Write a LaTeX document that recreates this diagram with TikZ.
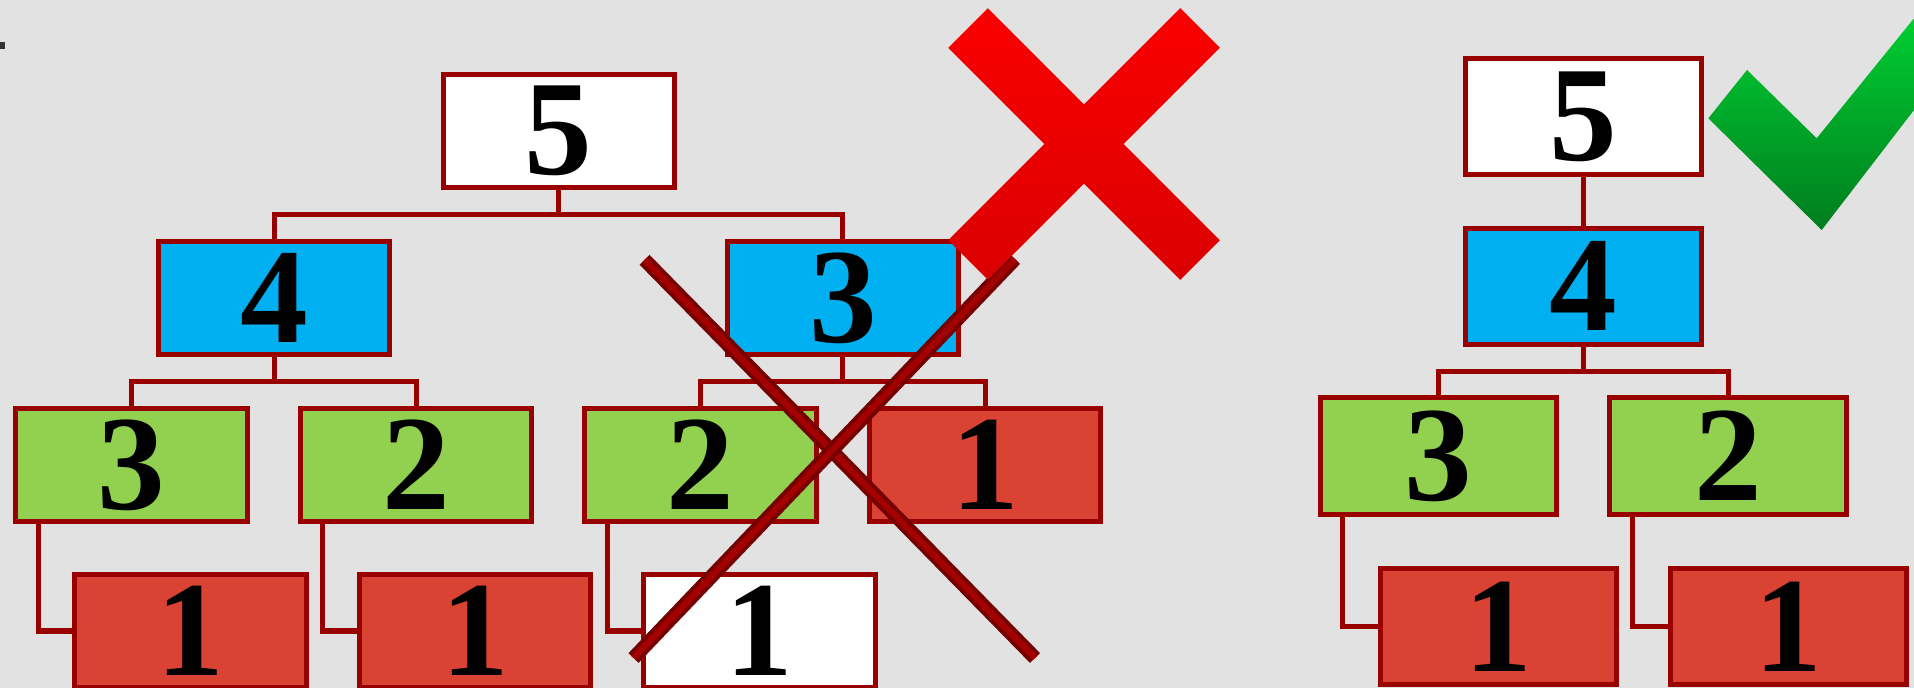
\documentclass[tikz,border=0pt]{standalone}
\usepackage{fontspec}
\setmainfont{Liberation Serif}
\usepackage{tikz}

\definecolor{paper}{RGB}{226,226,226}
\definecolor{edge}{RGB}{153,0,0}
\definecolor{sky}{RGB}{0,176,240}
\definecolor{leaf}{RGB}{146,208,80}
\definecolor{brick}{RGB}{218,67,51}
\definecolor{strikeout}{RGB}{118,0,0}
\definecolor{strikein}{RGB}{165,0,0}
\definecolor{crosshi}{RGB}{250,0,0}
\definecolor{crosslo}{RGB}{218,0,0}
\definecolor{tickhi}{RGB}{0,205,50}
\definecolor{ticklo}{RGB}{0,125,30}

\begin{document}
\begin{tikzpicture}[x=0.01cm,y=-0.01cm,
    box/.style={draw=edge, line width=0.05cm, minimum width=2.31cm,
      minimum height=1.13cm, inner sep=0pt,
      font=\fontsize{38.5}{40}\selectfont\bfseries},
    rbox/.style={minimum width=2.36cm, minimum height=1.16cm},
    link/.style={draw=edge, line width=0.05cm},
    strike/.style={draw=strikeout, line width=0.04cm, double=strikein,
      double distance=0.06cm}]
  \useasboundingbox (0,0) rectangle (1914,688);
  \clip (0,0) rectangle (1914,688);
  \fill[paper] (0,0) rectangle (1914,688);
  \fill[black!80] (0,42) rectangle (5,49);

  % left tree (wrong)
  \node[box, fill=white] (l5) at (558.6,131) {5};
  \node[box, fill=sky]   (l4) at (274.2,298) {4};
  \node[box, fill=sky]   (l3) at (842.9,298) {3};
  \node[box, fill=leaf]  (l43) at (131.5,465) {3};
  \node[box, fill=leaf]  (l42) at (416,465) {2};
  \node[box, fill=leaf]  (l32) at (700.5,465) {2};
  \node[box, fill=brick] (l31) at (985,465) {1};
  \node[box, fill=brick] (l431) at (190.5,631) {1};
  \node[box, fill=brick] (l421) at (475,631) {1};
  \node[box, fill=white] (l321) at (759.5,631) {1};

  \draw[link] (l5.south) -- ++(0,24.5) -| (l4.north);
  \draw[link] (l5.south) -- ++(0,24.5) -| (l3.north);
  \draw[link] (l4.south) -- ++(0,24.5) -| (l43.north);
  \draw[link] (l4.south) -- ++(0,24.5) -| (l42.north);
  \draw[link] (l3.south) -- ++(0,24.5) -| (l32.north);
  \draw[link] (l3.south) -- ++(0,24.5) -| (l31.north);
  \draw[link] (l43.south west) ++(25,0) |- (l431.west);
  \draw[link] (l42.south west) ++(25,0) |- (l421.west);
  \draw[link] (l32.south west) ++(25,0) |- (l321.west);

  % crossed out branch
  \draw[strike] (644.6,259.8) -- (1035,658);
  \draw[strike] (633.5,658) -- (1015,259);

  % big red cross
  \shade[top color=crosshi, bottom color=crosslo]
    (1180.2,279.8) -- (1219.8,240.2) -- (1123.6,144) -- (1219.8,47.8)
    -- (1180.2,8.2) -- (1084,104.4) -- (987.8,8.2) -- (948.2,47.8)
    -- (1044.4,144) -- (948.2,240.2) -- (987.8,279.8) -- (1084,183.6) -- cycle;

  % right tree (right)
  \node[box, rbox, fill=white] (r5) at (1583.3,116.7) {5};
  \node[box, rbox, fill=sky]   (r4) at (1583.3,286.3) {4};
  \node[box, rbox, fill=leaf]  (r3) at (1438.5,456) {3};
  \node[box, rbox, fill=leaf]  (r2) at (1728,456) {2};
  \node[box, rbox, fill=brick] (r31) at (1498.5,626.5) {1};
  \node[box, rbox, fill=brick] (r21) at (1788.3,626.5) {1};

  \draw[link] (r5) -- (r4);
  \draw[link] (r4.south) -- ++(0,24.5) -| (r3.north);
  \draw[link] (r4.south) -- ++(0,24.5) -| (r2.north);
  \draw[link] (r3.south west) ++(25,0) |- (r31.west);
  \draw[link] (r2.south west) ++(25,0) |- (r21.west);

  % green tick
  \shade[top color=tickhi, bottom color=ticklo]
    (1747,70) -- (1816.7,138.3) -- (1914,18.3) -- (1914,110)
    -- (1821.7,230) -- (1708.3,118.3) -- cycle;
\end{tikzpicture}
\end{document}
